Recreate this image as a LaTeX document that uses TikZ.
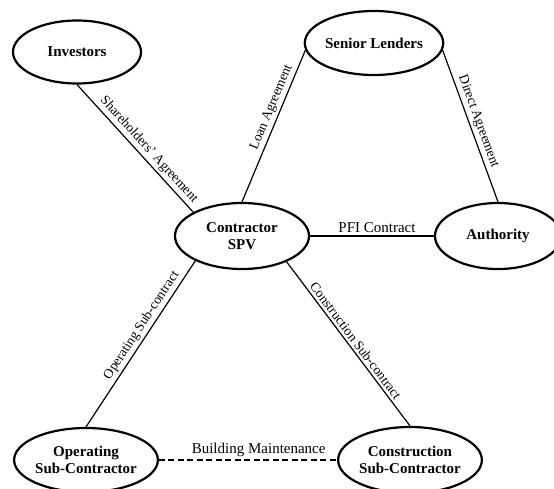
\documentclass[tikz,border=0pt]{standalone}
\usepackage{fontspec}
\setmainfont{Liberation Serif}
\usetikzlibrary{shapes.geometric}
\begin{document}
\begin{tikzpicture}[x=1pt,y=-1pt,
  party/.style={ellipse, draw, line width=2.2pt, inner sep=0pt,
    minimum width=128pt, minimum height=64pt, align=center,
    font=\fontsize{15}{17}\selectfont\bfseries},
  link/.style={line width=1.2pt},
  deal/.style={sloped, above, inner sep=2.5pt, font=\fontsize{13.5}{15}\selectfont},
  flatdeal/.style={above, inner sep=2.5pt, font=\fontsize{15}{17}\selectfont}]
  \useasboundingbox (0,0) rectangle (554,488);

  % parties
  \node[party, minimum height=63pt] (inv) at (77,52)  {Investors};
  \node[party] (sl)   at (374,43)  {Senior Lenders};
  \node[party, minimum width=134pt, minimum height=66pt] (spv) at (242,236) {Contractor\\SPV};
  \node[party, minimum width=126pt, minimum height=66pt] (auth) at (498,236) {Authority};
  \node[party] (op)   at (86,460)  {Operating\\Sub-Contractor};
  \node[party, minimum height=66pt] (con)  at (410,460) {Construction\\Sub-Contractor};

  % agreements
  \draw[link] (inv.south) -- node[deal, pos=0.56] {Shareholders' Agreement} (spv.154);
  \draw[link] (spv.north) -- node[deal, pos=0.6] {Loan Agreement} (sl.186);
  \draw[link] (sl.354) -- node[deal, pos=0.49] {Direct Agreement} (auth.north);
  \draw[link] (spv.east) -- node[flatdeal, pos=0.54] {PFI Contract} (auth.west);
  \draw[link] (op.north) -- node[deal, pos=0.58] {Operating Sub-contract} (spv.208);
  \draw[link] (spv.330) -- node[deal, pos=0.51] {Construction Sub-contract} (con.north);
  \draw[link, dash pattern=on 6pt off 3.5pt] (op.east) -- node[flatdeal, pos=0.56] {Building Maintenance} (con.west);
\end{tikzpicture}
\end{document}
